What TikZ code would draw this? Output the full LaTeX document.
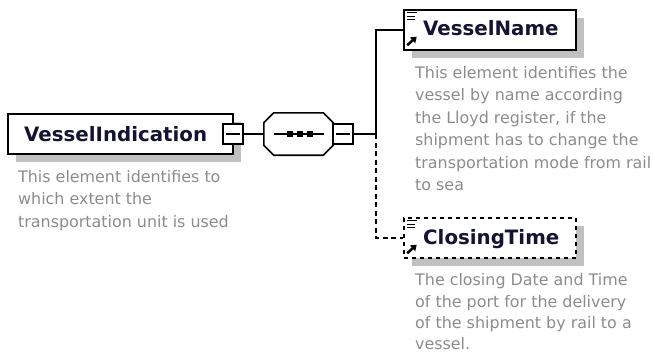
\documentclass[tikz,border=0pt]{standalone}
\usepackage{fontspec}
\setmainfont{DejaVu Sans}
\usetikzlibrary{shadows,arrows.meta,calc}
\definecolor{shadowgray}{HTML}{C0C0C0}
\definecolor{desccol}{HTML}{8C8C8C}
\definecolor{titlecol}{HTML}{141432}
\begin{document}
\begin{tikzpicture}[x=1pt,y=-1pt,
  shad/.style={drop shadow={shadow xshift=8pt, shadow yshift=-8pt, fill=shadowgray, opacity=1}},
  elem/.style={rectangle, draw=black, line width=1.6pt, fill=white, inner sep=0pt, minimum height=40pt, minimum width=#1, shad},
  minusbox/.style={rectangle, draw=black, line width=1.2pt, fill=white, inner sep=0pt, minimum size=20pt},
  conn/.style={draw=black, line width=1.6pt},
  dconn/.style={conn, dash pattern=on 5pt off 3.5pt},
  title/.style={text=titlecol, inner sep=0pt, font=\fontsize{19.8pt}{24pt}\selectfont\bfseries},
  desc/.style={text=desccol, inner sep=0pt, align=left, font=\fontsize{15.9pt}{22.5pt}\selectfont},
  refmark/.pic={
    \draw[line width=1.3pt] (4,3.5) -- (14,3.5) (4,7) -- (12,7) (4,10.5) -- (12,10.5);
    \draw[line width=2.6pt,-{Triangle[length=5.5pt,width=7.5pt]}] (4,36) -- (13.5,27.5);
  }]
\useasboundingbox (0,0) rectangle (653,353);

% VesselIndication
\node[elem=225pt] (vi) at (120.5,134) {};
\node[title, anchor=base west] (vit) at (24,141.5) {VesselIndication};
\node[minusbox] (vim) at (233,134) {};
\draw[line width=1.2pt] ($(vim.west)+(4,0)$) -- ($(vim.east)+(-4,0)$);
\node[desc, anchor=north west] (vid) at (18,170) {This element identifies to\\which extent the\\transportation unit is used};

% sequence compositor (octagon)
\node[rectangle, inner sep=0pt, minimum width=69pt, minimum height=42pt] (seq) at (298.5,134) {};
\fill[shadowgray, shift={(8,8)}]
  ($(seq.north west)+(10,0)$) -- ($(seq.north east)+(-10,0)$) -- ($(seq.north east)+(0,10)$)
  -- ($(seq.south east)+(0,-10)$) -- ($(seq.south east)+(-10,0)$) -- ($(seq.south west)+(10,0)$)
  -- ($(seq.south west)+(0,-10)$) -- ($(seq.north west)+(0,10)$) -- cycle;
\draw[line width=1.6pt, fill=white]
  ($(seq.north west)+(10,0)$) -- ($(seq.north east)+(-10,0)$) -- ($(seq.north east)+(0,10)$)
  -- ($(seq.south east)+(0,-10)$) -- ($(seq.south east)+(-10,0)$) -- ($(seq.south west)+(10,0)$)
  -- ($(seq.south west)+(0,-10)$) -- ($(seq.north west)+(0,10)$) -- cycle;
\draw[line width=1.5pt] ($(seq.center)+(-25,0)$) -- ($(seq.center)+(25,0)$);
\foreach \dx in {-8.5,1.5,11}
  \fill ($(seq.center)+(\dx-3,-3)$) rectangle ($(seq.center)+(\dx+3,3)$);
\node[minusbox] (seqm) at (343,134) {};
\draw[line width=1.2pt] ($(seqm.west)+(4,0)$) -- ($(seqm.east)+(-4,0)$);

% children
\node[elem=172pt] (vn) at (490,30) {};
\pic at (vn.north west) {refmark};
\node[title, anchor=base west] (vnt) at (423,36) {VesselName};
\node[desc, anchor=north west] (vnd) at (415,66) {This element identifies the\\vessel by name according\\the Lloyd register, if the\\shipment has to change the\\transportation mode from rail\\to sea};

\node[elem=172pt, dash pattern=on 4pt off 4pt] (ct) at (490,238) {};
\pic at (ct.north west) {refmark};
\node[title, anchor=base west] (ctt) at (423,244.3) {ClosingTime};
\node[desc, anchor=north west, font=\fontsize{15.9pt}{21.3pt}\selectfont] (ctd) at (415,273.5) {The closing Date and Time\\of the port for the delivery\\of the shipment by rail to a\\vessel.};

% connectors
\coordinate (j) at (376,134);
\draw[conn] (vim.east) -- (seq.west);
\draw[conn] (seqm.east) -- (j);
\draw[conn] (j) |- (vn.west);
\draw[dconn] (j) |- (ct.west);
\end{tikzpicture}
\end{document}
